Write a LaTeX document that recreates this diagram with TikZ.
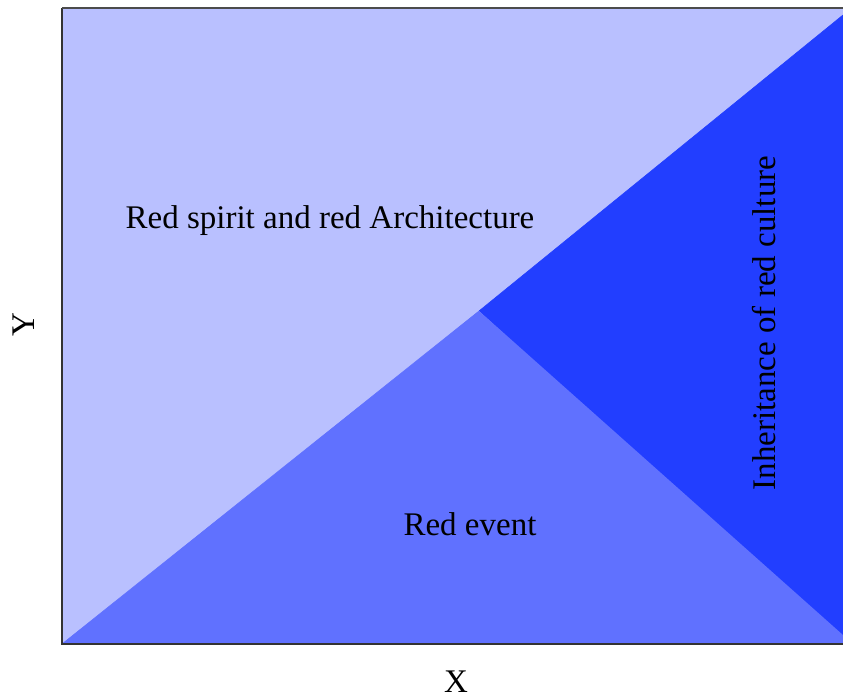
\documentclass[tikz,border=0pt]{standalone}
\usepackage{fontspec}
\setmainfont{Liberation Serif}
\usetikzlibrary{positioning}

\definecolor{zoneLight}{RGB}{185,192,255}
\definecolor{zoneMid}{RGB}{96,113,255}
\definecolor{zoneDark}{RGB}{34,62,255}

\tikzset{
  lbl/.style={font=\fontsize{33}{40}\selectfont, text=black, inner sep=0pt},
  axisline/.style={draw=black!80, line width=1.6pt}
}

\begin{document}
\begin{tikzpicture}[x=1pt, y=-1pt]
\useasboundingbox (0,0) rectangle (843,698);

\coordinate (o) at (62,644);
\coordinate (tl) at (62,8);
\coordinate (tr) at (843,8);
\coordinate (dr) at (843,15);
\coordinate (br) at (843,644);
\coordinate (mid) at (479,311);
\coordinate (er) at (843,635);

% regions (painted over one another, no seams)
\fill[zoneLight] (o) rectangle (tr);
\fill[zoneDark] (mid) -- (dr) -- (br) -- cycle;
\fill[zoneMid] (o) -- (mid) -- (er) -- (br) -- cycle;
\draw[zoneMid, line width=0.6pt] (o) -- (mid);
\draw[zoneDark, line width=0.6pt] (mid) -- (dr);

% axes
\draw[axisline] (tl) -- (o) -- (br);
\draw[draw=black!70, line width=1.2pt] (tl) -- (tr);

% labels
\node[lbl, anchor=base] (spirit) at (330,228) {Red spirit and red Architecture};
\node[lbl, anchor=base] (event) at (470,535) {Red event};
\node[lbl, rotate=90, anchor=base] (culture) at (775,323) {Inheritance of red culture};
\node[lbl, rotate=90, anchor=base] (ylab) at (34,325) {Y};
\node[lbl, anchor=base] (xlab) at (456,692) {X};
\end{tikzpicture}
\end{document}
